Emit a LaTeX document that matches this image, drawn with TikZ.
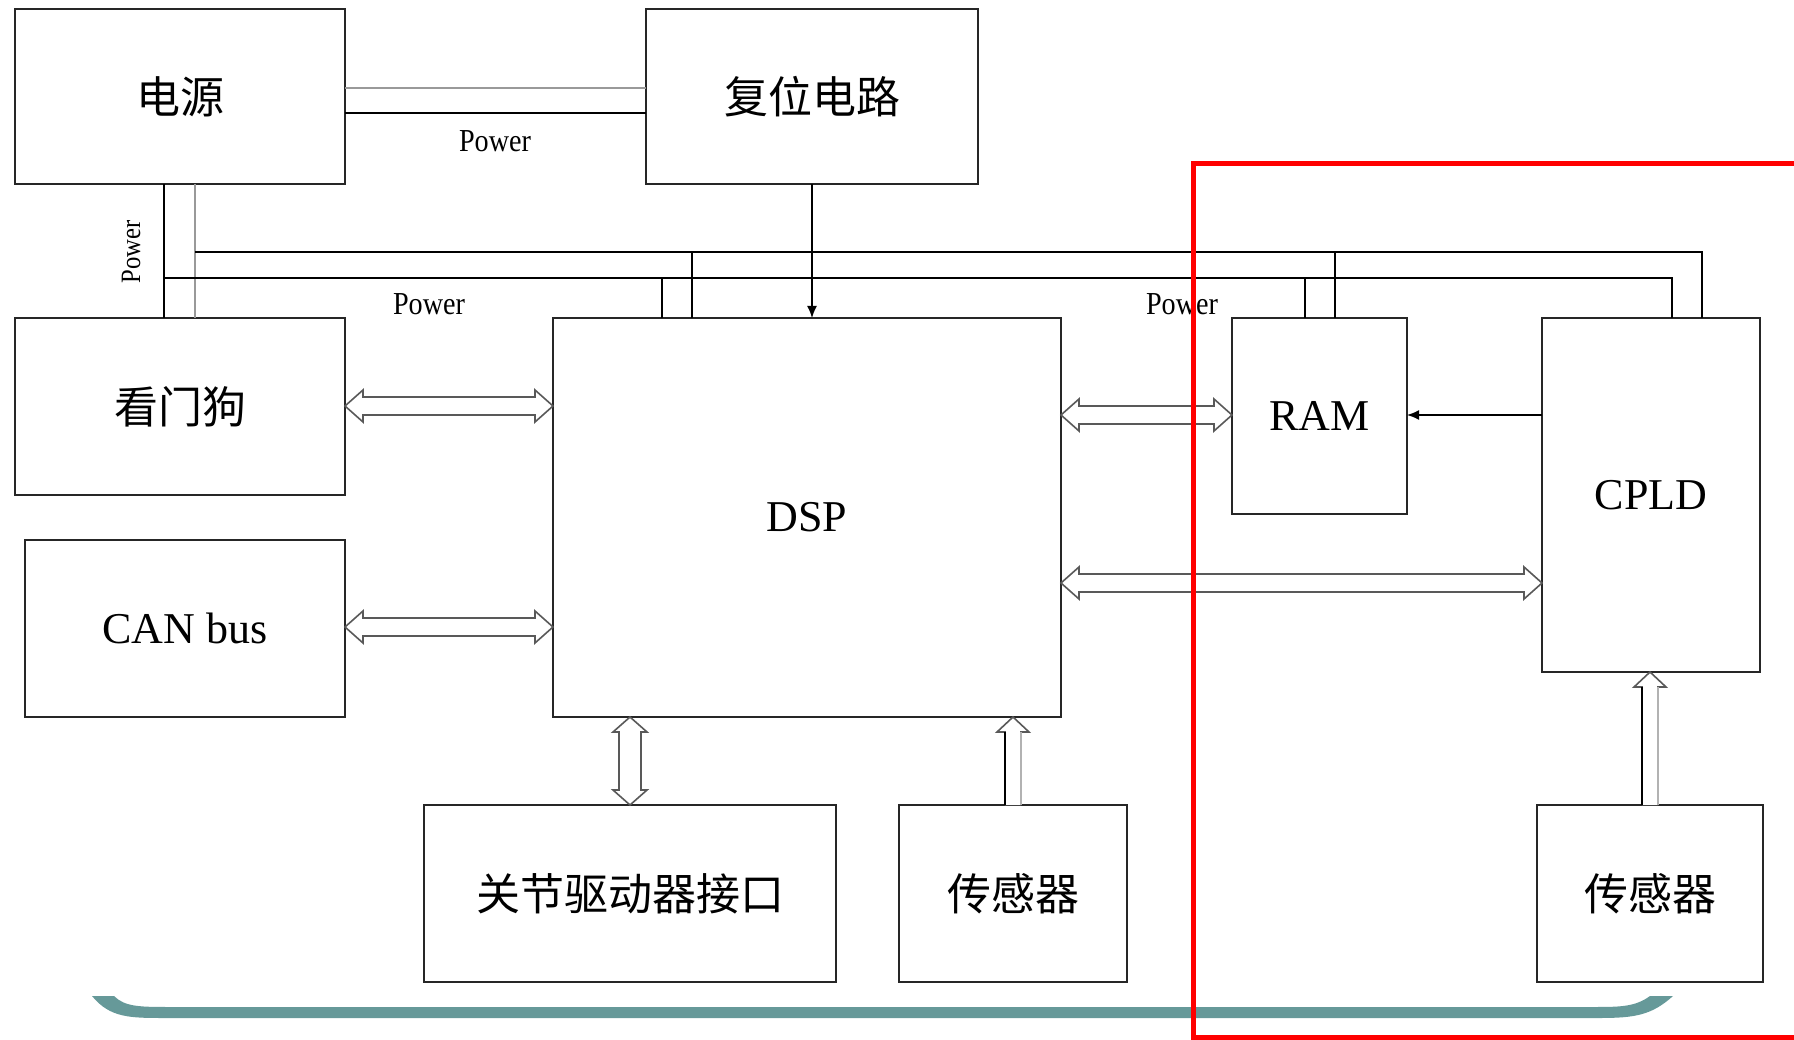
\documentclass[tikz,border=0pt]{standalone}
\usepackage{fontspec}
\usepackage{graphicx}
\setmainfont{Liberation Serif}
\newfontfamily\cjk{Noto Sans CJK SC}
\usetikzlibrary{calc,arrows.meta}
\definecolor{tealc}{RGB}{102,153,153}
\definecolor{redc}{RGB}{255,0,0}
\tikzset{
 box/.style={draw=black!85, line width=2pt, inner sep=0pt, outer sep=0pt, font=\fontsize{44}{50}\selectfont},
 pw/.style={line width=1.6pt, draw=black},
 pwg/.style={line width=1.6pt, draw=black!40},
 hollow/.style={draw=black!65, line width=1.6pt, fill=white, line join=miter},
 lbl/.style={font=\fontsize{32}{36}\selectfont, inner sep=0pt},
}
\newcommand\hdarr[4]{%
 \draw[hollow] (#1) -- ($(#1)+(18,-#4)$) -- ($(#1)+(18,-#3)$) -- ($(#2)+(-18,-#3)$) -- ($(#2)+(-18,-#4)$) -- (#2) -- ($(#2)+(-18,#4)$) -- ($(#2)+(-18,#3)$) -- ($(#1)+(18,#3)$) -- ($(#1)+(18,#4)$) -- cycle;}
\newcommand\vdarr[2]{%
 \draw[hollow] (#1) -- ($(#1)+(-17,15)$) -- ($(#1)+(-11,15)$) -- ($(#2)+(-11,-15)$) -- ($(#2)+(-17,-15)$) -- (#2) -- ($(#2)+(17,-15)$) -- ($(#2)+(11,-15)$) -- ($(#1)+(11,15)$) -- ($(#1)+(17,15)$) -- cycle;}
\newcommand\uparr[2]{%
 \draw[hollow] ($(#2)+(-8,0)$) -- ($(#1)+(-8,15)$) -- ($(#1)+(-16,15)$) -- (#1) -- ($(#1)+(16,15)$) -- ($(#1)+(8,15)$) -- ($(#2)+(8,0)$);
 \draw[line width=1.6pt, draw=black!30] ($(#1)+(8,15)$) -- ($(#2)+(8,0)$);
 \draw[line width=1.6pt, draw=black] ($(#1)+(-8,15)$) -- ($(#2)+(-8,0)$);}
\begin{document}
\begin{tikzpicture}[x=1pt,y=-1pt]
\useasboundingbox (0,0) rectangle (1794,1040);
\fill[white] (0,0) rectangle (1794,1040);
% boxes
\node[box, minimum width=330pt, minimum height=175pt] (ps) at (180,96.5) {\cjk 电源};
\node[box, minimum width=332pt, minimum height=175pt] (rst) at (812,96.5) {\cjk 复位电路};
\node[box, minimum width=330pt, minimum height=177pt] (wd) at (180,406.5) {\cjk 看门狗};
\node[box, minimum width=320pt, minimum height=177pt] (can) at (185,628.5) {CAN bus};
\node[box, minimum width=508pt, minimum height=399pt] (dsp) at (807,517.5) {DSP};
\node[box, minimum width=175pt, minimum height=196pt] (ram) at (1319.5,416) {RAM};
\node[box, minimum width=218pt, minimum height=354pt] (cpld) at (1651,495) {CPLD};
\node[box, minimum width=412pt, minimum height=177pt] (jd) at (630,893.5) {\cjk 关节驱动器接口};
\node[box, minimum width=228pt, minimum height=177pt] (s1) at (1013,893.5) {\cjk 传感器};
\node[box, minimum width=226pt, minimum height=177pt] (s2) at (1650,893.5) {\cjk 传感器};
% power lines
\draw[pwg] (ps.east |- 0,88) -- (rst.west |- 0,88);
\draw[pw] (ps.east |- 0,113) -- (rst.west |- 0,113);
\draw[pw] (ps.south -| 164,0) -- (wd.north -| 164,0);
\draw[pwg] (ps.south -| 195,0) -- (wd.north -| 195,0);
\draw[pw] (164,278) -- (1672,278) -- (cpld.north -| 1672,0);
\draw[pw] (195,252) -- (1702,252) -- (cpld.north -| 1702,0);
\draw[pw] (662,278) -- (dsp.north -| 662,0);
\draw[pw] (692,252) -- (dsp.north -| 692,0);
\draw[pw] (1305,278) -- (ram.north -| 1305,0);
\draw[pw] (1335,252) -- (ram.north -| 1335,0);
\node[lbl] (p1) at (495,141) {\scalebox{0.88}[1]{Power}};
\node[lbl] (p2) at (429,304) {\scalebox{0.88}[1]{Power}};
\node[lbl] (p3) at (1182,304) {\scalebox{0.88}[1]{Power}};
\node[lbl, rotate=90, font=\fontsize{28}{32}\selectfont] (p4) at (131,252) {\scalebox{0.88}[1]{Power}};
% reset arrow
\draw[pw, -{Latex[length=12pt,width=10pt]}] (rst.south) -- (rst.south |- dsp.north);
% CPLD -> RAM
\draw[pw, -{Latex[length=12pt,width=10pt]}] (cpld.west |- 0,415) -- (ram.east |- 0,415);
% hollow bus arrows
\coordinate (a1) at (wd.east |- 0,406); \coordinate (a2) at (dsp.west |- 0,406);
\coordinate (b1) at (can.east |- 0,627); \coordinate (b2) at (dsp.west |- 0,627);
\coordinate (c1) at (dsp.east |- 0,415); \coordinate (c2) at (ram.west |- 0,415);
\coordinate (d1) at (dsp.east |- 0,583); \coordinate (d2) at (cpld.west |- 0,583);
\hdarr{a1}{a2}{9}{16}
\hdarr{b1}{b2}{9}{16}
\hdarr{c1}{c2}{9}{16}
\hdarr{d1}{d2}{9}{16}
\coordinate (e1) at (jd.north |- dsp.south); \coordinate (e2) at (jd.north);
\vdarr{e1}{e2}
\coordinate (f1) at (s1.north |- dsp.south); \coordinate (f2) at (s1.north);
\uparr{f1}{f2}
\coordinate (g1) at (s2.north |- cpld.south); \coordinate (g2) at (s2.north);
\uparr{g1}{g2}
% teal bracket
\fill[tealc] (92,996) .. controls (110,1018) and (130,1018) .. (165,1018) -- (1600,1018) .. controls (1635,1018) and (1652,1015) .. (1673,996) -- (1650,996) .. controls (1635,1007) and (1620,1007) .. (1592,1007) -- (172,1007) .. controls (140,1007) and (125,1007) .. (114,996) -- cycle;
% red frame
\draw[redc, line width=5pt] (1800,164) -- (1193,164) -- (1193,1037) -- (1800,1037);
\end{tikzpicture}
\end{document}
